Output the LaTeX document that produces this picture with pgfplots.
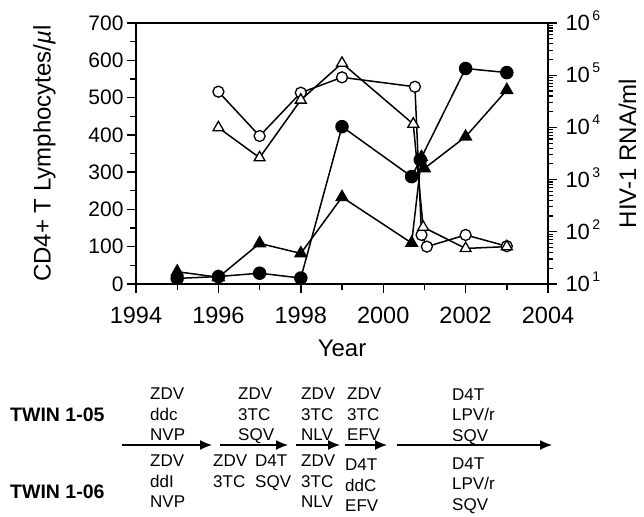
\documentclass[border=0pt]{standalone}
\usepackage{pgfplots}
\pgfplotsset{compat=1.18}
\usepackage{fontspec}
\setmainfont{Liberation Sans}
\usetikzlibrary{arrows.meta}

\pgfplotstableread{
x y
1995 15
1996 20
1997 29
1998 16
1999 422
2000.69 288
2000.90 333
2002 578
2003 567
}\fcircle
\pgfplotstableread{
x y
1995 33
1996 18
1997 109
1998 82
1999 233
2000.69 110
2000.93 340
2001.00 310
2002 395
2003 520
}\ftri
\pgfplotstableread{
x y
1996 48300
1997 6840
1998 46200
1999 91000
2000.77 60000
2000.93 87
2001.06 52
2002 87
2003 53
}\ocircle
\pgfplotstableread{
x y
1996 9870
1997 2630
1998 33500
1999 170000
2000.73 11600
2000.97 123
2002 48
2003 52
}\otri

\newcommand{\tenpow}[1]{10\hspace{2.5pt}\smash{\raisebox{10pt}{\fontsize{14}{14}\selectfont #1}}}

\begin{document}
\begin{tikzpicture}[x=1pt,y=1pt]
\path[use as bounding box] (0,0) rectangle (644,-516);
\begin{axis}[
  at={(136pt,-284pt)}, anchor=south west,
  scale only axis, width=412pt, height=261pt,
  xmin=1994, xmax=2004, ymin=0, ymax=700,
  xtick={1994,1996,...,2004}, minor xtick={1995,1997,...,2003},
  ytick={0,100,...,700}, minor ytick={50,150,...,650},
  xtick pos=bottom, ytick pos=left, tick align=outside,
  major tick length=9pt, minor tick length=6pt,
  axis line style={line width=1.8pt},
  every tick/.append style={line width=1.4pt, black},
  /pgf/number format/assume math mode=true,
  /pgf/number format/1000 sep={},
  xticklabel shift=11pt,
  xticklabel style={font=\fontsize{23.5}{28}\selectfont},
  yticklabel style={font=\fontsize{21}{25}\selectfont},
  xlabel={Year},
  xlabel style={font=\fontsize{24}{28}\selectfont, at={(axis description cs:0.5,-0.2759)}, anchor=base},
  ylabel={CD4+ T Lymphocytes/{\itshape µ}l},
  ylabel style={font=\fontsize{24}{28}\selectfont, at={(axis description cs:-0.2075,0.5)}, anchor=base},
  clip=false,
]
\addplot[black, line width=1.5pt, mark=*, mark size=6pt] table[x=x,y=y] {\fcircle};
\addplot[black, line width=1.5pt, mark=triangle*, mark size=6.5pt] table[x=x,y=y] {\ftri};
\end{axis}
\begin{axis}[
  at={(136pt,-284pt)}, anchor=south west,
  scale only axis, width=412pt, height=261pt,
  xmin=1994, xmax=2004, ymode=log, ymin=10, ymax=1000000,
  axis x line=none, axis y line*=right,
  tick align=outside,
  major tick length=9pt, minor tick length=5pt,
  axis line style={line width=1.8pt},
  every tick/.append style={line width=1.2pt, black},
  ytick={10,100,1000,10000,100000,1000000},
  yticklabels={\tenpow{1},\tenpow{2},\tenpow{3},\tenpow{4},\tenpow{5},\tenpow{6}},
  yticklabel style={font=\fontsize{22}{26}\selectfont, xshift=5pt},
  ylabel={HIV-1 RNA/ml},
  ylabel style={font=\fontsize{24}{28}\selectfont, inner sep=0pt, at={(axis description cs:1.214,0.5)}, anchor=base},
  clip=false,
]
\addplot[black, line width=1.5pt, mark=*, mark size=5.5pt, mark options={fill=white, line width=1.3pt}] table[x=x,y=y] {\ocircle};
\addplot[black, line width=1.5pt, mark=triangle*, mark size=6.3pt, mark options={fill=white, line width=1.3pt}] table[x=x,y=y] {\otri};
\end{axis}

% treatment timeline
\tikzset{reg/.style={anchor=base west, inner sep=0pt, font=\fontsize{17}{20}\selectfont},
         tw/.style={anchor=base west, inner sep=0pt, font=\fontsize{19.5}{22}\selectfont\bfseries},
         arr/.style={line width=1.3pt, -{Latex[length=12pt,width=10pt]}}}
\node[tw] at (10,-421.7) {TWIN 1-05};
\node[tw] at (10,-498.3) {TWIN 1-06};
\draw[arr] (122,-445) -- (212,-445);
\draw[arr] (220,-445) -- (288,-445);
\draw[arr] (296,-445) -- (340,-445);
\draw[arr] (345,-445) -- (387,-445);
\draw[arr] (397,-445) -- (552,-445);
% col 1
\node[reg] at (150,-399.5) {ZDV};
\node[reg] at (150,-420) {ddc};
\node[reg] at (150,-440.5) {NVP};
\node[reg] at (150,-466.5) {ZDV};
\node[reg] at (150,-487) {ddI};
\node[reg] at (150,-507.5) {NVP};
% col 2
\node[reg] at (238,-399.5) {ZDV};
\node[reg] at (238,-420) {3TC};
\node[reg] at (238,-440.5) {SQV};
\node[reg] at (213,-466.5) {ZDV};
\node[reg] at (213,-487) {3TC};
\node[reg] at (255,-466.5) {D4T};
\node[reg] at (255,-487) {SQV};
% col 3
\node[reg] at (301,-399.5) {ZDV};
\node[reg] at (301,-420) {3TC};
\node[reg] at (301,-440.5) {NLV};
\node[reg] at (301,-466.5) {ZDV};
\node[reg] at (301,-487) {3TC};
\node[reg] at (301,-507.5) {NLV};
% col 4
\node[reg] at (347,-399.5) {ZDV};
\node[reg] at (347,-420) {3TC};
\node[reg] at (347,-440.5) {EFV};
\node[reg] at (345,-470) {D4T};
\node[reg] at (345,-491) {ddC};
\node[reg] at (345,-511) {EFV};
% col 5
\node[reg] at (452,-400) {D4T};
\node[reg] at (452,-420.5) {LPV/r};
\node[reg] at (452,-441) {SQV};
\node[reg] at (452,-469) {D4T};
\node[reg] at (452,-489.5) {LPV/r};
\node[reg] at (452,-510) {SQV};
\end{tikzpicture}
\end{document}
